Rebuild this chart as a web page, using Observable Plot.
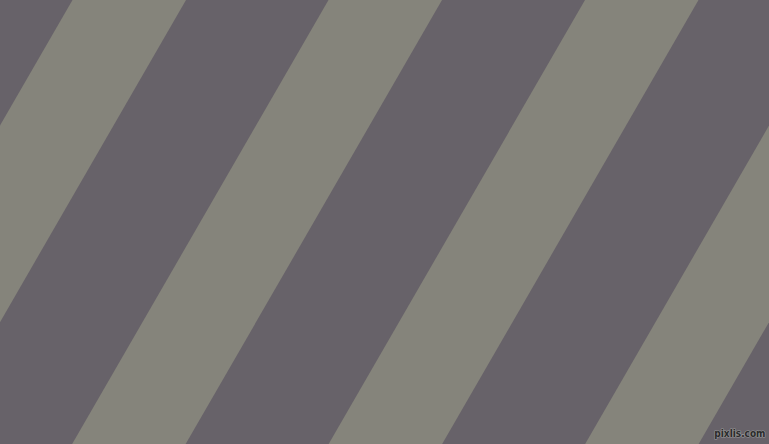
<!DOCTYPE html>
<html>
<head>
<meta charset="utf-8">
<script src="https://cdn.jsdelivr.net/npm/d3@7"></script>
<script src="https://cdn.jsdelivr.net/npm/@observablehq/plot@0.6"></script>
<style>
  html, body { margin: 0; padding: 0; background: #676269; overflow: hidden; }
  #chart svg { display: block; }
</style>
</head>
<body>
<div id="chart"></div>
<script>
// Stripe pattern values
const stripeStarts = [72.5, 328.5, 585, 841.5]; // left edge of each light stripe along the top edge
const stripeWidth = 113.5;                      // horizontal width of a light stripe
const stripeAngle = 60;                         // degrees from horizontal
const darkColor = "#676269";
const lightColor = "#85847b";
const W = 769, H = 444;
const watermark = ["pixlis.com"];

const shift = H / Math.tan(stripeAngle * Math.PI / 180);
const rows = stripeStarts.flatMap((s, i) => [
  {stripe: i, y: 0, x1: s, x2: s + stripeWidth},
  {stripe: i, y: H, x1: s - shift, x2: s - shift + stripeWidth}
]);

const chart = Plot.plot({
  width: W,
  height: H,
  margin: 0,
  x: {domain: [0, W], axis: null},
  y: {domain: [0, H], reverse: true, axis: null},
  style: {background: darkColor},
  marks: [
    Plot.areaX(rows, {y: "y", x1: "x1", x2: "x2", z: "stripe", fill: lightColor}),
    Plot.text(watermark, {
      x: W - 4, y: H - 11, text: d => d, textAnchor: "end",
      fontSize: 10, fontWeight: "bold", fontFamily: "DejaVu Sans Condensed", fill: "#2b2b2b",
      stroke: "#9a9a9a", strokeWidth: 1.2, paintOrder: "stroke"
    })
  ]
});
document.getElementById("chart").append(chart);
</script>
</body>
</html>
